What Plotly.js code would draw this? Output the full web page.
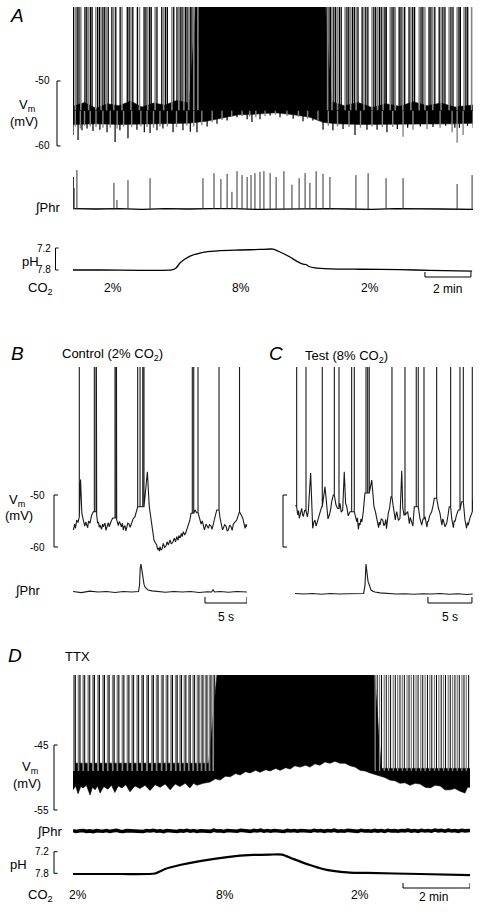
<!DOCTYPE html>
<html><head><meta charset="utf-8">
<script src="https://cdn.plot.ly/plotly-3.0.1.min.js"></script>
<style>html,body{margin:0;padding:0;background:#fff}#chart{width:485px;height:912px}</style>
</head><body><div id="chart"></div>
<script>
// ===== Panel A (time in min, Vm in mV) =====
const aBodyT = [0,1,2,3,4,5,5.8,6.5,7.2,8.0,8.8,9.6,10.3,10.9,11.5,12.5,13.5,14.5,15.5,16.5,17.39];
const aBodyLo = [-56.7,-56.6,-56.7,-56.6,-56.5,-56.5,-56.2,-55.7,-55.2,-55.1,-54.9,-55.2,-55.6,-56.4,-56.6,-56.7,-56.7,-56.6,-56.6,-56.6,-56.5];
const aBodyHiT = [0,0.5,1.0,1.5,2.0,2.5,3.0,3.5,4.0,4.5,5.05,5.35,10.95,11.25,11.8,12.4,13.0,13.6,14.2,14.8,15.4,16.0,16.6,17.39];
const aBodyHi = [-53.9,-53.3,-54.2,-53.5,-53.8,-53.1,-54.0,-53.4,-53.7,-53.0,-53.4,-38,-38,-53.2,-53.8,-53.3,-54.1,-53.5,-53.9,-53.2,-53.8,-53.4,-54.0,-53.7];
const aTipT = [0.00,0.10,0.22,0.32,0.39,0.50,0.61,0.75,0.87,1.00,1.17,1.30,1.48,1.62,1.83,1.92,2.04,2.20,2.39,2.55,2.78,2.95,3.10,3.22,3.35,3.50,3.65,3.78,3.91,4.10,4.35,4.50,4.78,4.95,5.10,5.25,5.39,5.60,5.83,6.05,6.26,6.48,6.70,6.90,7.13,7.35,7.57,7.68,7.78,7.95,8.13,8.35,8.57,8.80,9.00,9.30,9.57,9.80,10.00,10.20,10.43,10.65,10.87,11.10,11.30,11.50,11.74,12.00,12.26,12.50,12.78,13.00,13.22,13.45,13.65,13.90,14.10,14.35,14.55,14.78,15.10,15.39,15.65,15.96,16.20,16.48,16.60,16.70,16.80,16.96,17.15,17.39];
const aTipV = [-58.3,-57.0,-59.1,-57.3,-57.6,-56.9,-57.3,-57.0,-57.7,-57.1,-57.5,-57.2,-57.9,-57.2,-59.4,-57.3,-57.6,-57.0,-58.8,-57.1,-57.5,-57.0,-57.9,-57.1,-58.0,-57.2,-57.6,-57.0,-57.3,-57.0,-57.9,-57.1,-57.6,-56.9,-57.8,-57.0,-57.9,-56.8,-57.0,-56.3,-56.6,-56.0,-56.1,-55.5,-55.6,-55.4,-55.9,-55.5,-56.3,-55.6,-55.9,-55.4,-55.3,-55.2,-55.6,-55.4,-55.8,-55.5,-56.2,-55.8,-56.1,-56.0,-57.5,-56.9,-57.6,-57.0,-57.4,-57.1,-58.3,-57.2,-57.5,-57.0,-57.5,-57.1,-57.9,-57.1,-57.4,-58.6,-57.2,-57.5,-57.0,-57.4,-57.1,-57.2,-56.9,-57.9,-57.2,-59.5,-57.2,-58.3,-56.9,-57.2];
const aSpkT = [0.02,0.10,0.18,0.26,0.34,0.52,0.60,0.68,0.76,0.83,0.99,1.07,1.15,1.22,1.30,1.38,1.46,1.53,1.69,1.77,1.86,2.05,2.13,2.36,2.44,2.52,2.60,2.80,2.89,3.09,3.17,3.25,3.33,3.40,3.57,3.65,3.86,3.94,4.02,4.10,4.30,4.38,4.52,4.60,4.66,4.74,4.82,4.89,4.96,5.03,5.10,5.17,5.25,5.31,5.37,5.43,
  10.95,11.01,11.07,11.13,11.20,11.26,11.34,11.42,11.50,11.58,11.66,11.83,11.91,11.99,12.07,12.15,12.23,12.31,12.39,12.57,12.65,12.73,12.82,13.00,13.08,13.16,13.24,13.32,13.40,13.48,13.56,13.62,13.79,13.87,13.95,14.01,14.18,14.26,14.34,14.42,14.61,14.69,14.77,14.85,15.05,15.13,15.21,15.30,15.48,15.56,15.64,15.73,15.92,16.00,16.08,16.17,16.35,16.43,16.52,16.70,16.78,16.84,17.00,17.08,17.16,17.33];
const aPhrBaseT = [0,1,2,3,4,5,6,7,8,9,10,11,12,13,14,15,16,17.39];
const aPhrBaseV = [0.01,0.0,0.01,-0.01,0.01,0.0,0.01,0.01,-0.01,0.0,0.01,0.01,0.0,-0.01,0.01,0.01,0.0,-0.01];
const aPhrT = [0.02,0.05,0.17,1.78,1.91,2.39,3.35,5.65,6.13,6.43,6.70,6.91,7.13,7.35,7.57,7.74,7.91,8.13,8.30,8.57,8.83,9.17,9.52,9.83,10.09,10.30,10.57,10.87,11.17,12.30,12.83,13.61,14.35,16.70,17.35];
const aPhrH = [0.82,0.54,1.0,0.67,0.23,0.74,0.79,0.79,0.92,0.77,0.90,0.44,0.97,0.87,0.82,0.87,0.92,0.95,0.97,0.92,0.82,0.97,0.62,0.79,0.92,0.67,0.97,0.90,0.82,0.87,0.92,0.79,0.79,0.64,0.87];
const aPhT = [0,1.17,2.91,4.30,4.48,4.65,4.87,5.09,5.52,5.96,6.39,7.26,8.13,8.70,9.0,9.43,9.78,10.0,10.13,10.26,10.52,11.17,12.48,14.22,15.52,17.35];
const aPh = [7.80,7.80,7.81,7.80,7.745,7.61,7.50,7.42,7.34,7.295,7.27,7.255,7.24,7.23,7.31,7.445,7.58,7.64,7.65,7.705,7.745,7.77,7.78,7.79,7.81,7.83];

// ===== Panel B (time in s) =====
const bT = [0.04,0.20,0.30,0.44,0.60,0.75,0.90,1.05,1.23,1.40,1.52,1.63,1.75,1.85,2.02,2.12,2.23,2.42,2.82,2.93,3.04,3.12,3.21,3.40,3.52,3.61,3.81,3.92,4.01,4.20,4.30,4.40,4.55,4.73,5.20,5.40,5.50,5.60,5.77,5.88,5.99,6.10,6.19,6.30,6.39,6.52,6.67,6.80,6.99,7.15,7.38,7.50,7.65,8.57,8.85,9.08,9.37,9.50,9.64,9.80,9.96,10.08,10.18,10.28,10.36,10.48,10.60,10.75,10.90,11.07,11.20,11.35,11.55,11.70,11.90,12.05,12.20,12.35,12.50,12.60,12.74,12.90,13.00,13.13,13.30,13.45,13.60,13.73,13.90,14.05,14.52,14.70,15.12,15.25,15.38,15.51,15.65,15.83,15.97,16.11,16.25,16.43,16.55,16.70,16.90,17.11,17.50,17.65,17.80,17.89,18.05,18.21,18.35,18.49,18.65,18.81,18.95,19.08,19.25,19.49,19.65,19.80,20.20,20.35,20.48,20.60,20.68];
const bV = [-56.73,-55.6,-56.4,-54.81,-55.3,-54.17,-47.0,-53.5,-54.81,-56.0,-55.2,-55.77,-56.3,-55.0,-55.44,-54.6,-53.85,-53.21,-53.85,-55.4,-55.19,-56.2,-55.77,-56.6,-55.6,-56.10,-55.38,-56.8,-56.35,-55.3,-56.1,-55.44,-55.0,-54.42,-54.81,-55.9,-55.1,-55.38,-56.15,-55.4,-56.73,-56.0,-55.96,-56.9,-56.35,-55.4,-55.58,-56.2,-55.38,-54.6,-54.17,-53.3,-52.25,-50.33,-45.52,-52.25,-56.10,-57.8,-58.65,-59.2,-59.62,-60.5,-60.19,-60.8,-59.94,-60.6,-60.38,-59.29,-60.1,-59.81,-59.0,-59.6,-58.65,-59.4,-59.04,-58.3,-59.0,-58.02,-58.7,-57.8,-58.27,-57.4,-58.0,-57.06,-57.7,-57.12,-56.4,-55.44,-54.9,-53.52,-52.88,-53.4,-54.81,-55.6,-55.0,-56.10,-56.7,-55.58,-56.2,-56.40,-55.7,-55.96,-56.6,-55.44,-54.5,-52.88,-54.42,-55.3,-56.7,-56.40,-55.7,-55.96,-56.9,-56.73,-55.8,-56.10,-56.8,-55.58,-55.2,-54.81,-54.0,-53.21,-54.42,-55.5,-56.40,-55.6,-56.10];
const bSpkT = [0.75,2.54,2.74,5.00,5.15,7.70,7.98,8.30,8.45,14.20,14.37,14.88,17.38,19.82];
const bPhrT = [0,1,2,3,4,5,6,7,7.8,7.92,8.0,8.08,8.15,8.22,8.33,8.45,8.57,8.75,8.93,9.4,10,11,12,13,14,15,16,16.5,16.67,16.85,17.5,18.5,19.5,20.7];
const bPhrV = [0.02,-0.02,0.03,0.0,0.02,-0.02,0.02,0.0,0.02,0.25,0.85,1.0,0.88,0.7,0.43,0.28,0.18,0.12,0.07,0.04,0.02,-0.01,0.02,0.0,0.02,-0.02,0.01,0.0,0.08,0.0,0.02,-0.01,0.02,0.0];

// ===== Panel C (time in s) =====
const cT = [0.05,0.11,0.30,0.40,0.49,0.62,0.76,0.85,0.94,1.10,1.40,1.51,1.78,1.90,2.01,2.15,2.27,2.40,2.53,2.68,2.84,3.03,3.41,3.60,3.75,3.90,4.05,4.17,4.35,4.66,4.85,5.11,5.25,5.42,5.60,5.75,5.88,6.05,6.25,6.90,7.01,7.10,7.20,7.30,7.39,7.50,7.60,7.76,7.95,8.72,8.98,9.15,9.28,9.40,9.50,9.58,9.66,9.80,9.97,10.10,10.23,10.32,10.40,10.50,10.60,10.75,10.91,11.17,11.30,11.40,11.48,11.56,11.75,11.93,12.13,12.25,12.39,12.81,12.90,13.00,13.10,13.18,13.30,13.40,13.48,13.56,14.20,14.30,14.40,14.55,14.77,14.90,15.00,15.08,15.15,15.30,15.53,15.70,15.83,16.30,16.48,16.60,16.70,16.78,16.85,17.05,17.24,17.40,17.53,17.81,17.90,18.00,18.10,18.18,18.35,18.56,18.94,19.32,19.42,19.50,19.60,19.69,19.85,20.08,20.23];
const cV = [-52.0,-52.25,-53.8,-53.0,-54.48,-53.4,-52.56,-53.7,-54.17,-53.0,-54.2,-53.21,-45.77,-53.0,-56.40,-55.2,-54.81,-56.0,-55.13,-54.2,-53.52,-52.25,-48.40,-52.88,-54.6,-53.85,-52.8,-51.29,-50.0,-51.92,-52.6,-51.60,-53.3,-52.88,-45.52,-51.6,-52.25,-54.0,-53.21,-54.3,-55.13,-54.4,-56.6,-55.4,-55.77,-54.6,-55.2,-53.21,-49.62,-47.12,-52.25,-53.3,-54.17,-55.4,-56.3,-55.2,-55.77,-54.6,-54.81,-55.9,-55.44,-54.7,-56.5,-54.9,-53.52,-52.5,-50.33,-52.25,-53.6,-54.8,-53.8,-53.21,-54.9,-54.48,-45.33,-52.5,-53.85,-53.21,-54.6,-55.5,-54.3,-54.81,-55.3,-56.0,-54.0,-52.25,-54.48,-55.0,-55.8,-54.6,-54.17,-55.3,-56.2,-55.0,-55.13,-54.0,-53.21,-52.0,-50.63,-52.5,-53.52,-54.9,-55.8,-54.6,-54.81,-56.1,-55.44,-53.8,-52.25,-54.48,-55.3,-56.3,-54.9,-55.13,-53.9,-52.88,-51.29,-54.81,-55.6,-56.4,-55.3,-55.77,-54.6,-53.21,-51.0];
const cSpkT = [0.19,1.25,3.10,4.47,5.00,6.44,6.74,8.07,8.26,8.44,11.02,12.50,13.78,14.01,14.66,16.10,17.69,18.75,19.13,20.15];
const cPhrT = [0,1,2,3,4,5,6,7,7.8,7.95,8.02,8.07,8.13,8.2,8.3,8.45,8.64,8.85,9.09,9.66,10.5,11.5,12.5,13.5,14.5,15.5,16.5,17.5,18.5,19.5,20.2];
const cPhrV = [0.02,0.0,0.02,-0.01,0.02,0.0,0.01,0.02,0.02,0.3,0.8,1.07,0.9,0.68,0.45,0.32,0.14,0.1,0.07,0.04,0.02,0.0,0.01,-0.01,0.01,0.0,0.02,-0.01,0.01,-0.02,0.0];

// ===== Panel D (time in min) =====
const dBodyT = [0.00,0.08,0.15,0.23,0.30,0.40,0.51,0.58,0.66,0.73,0.81,0.92,1.04,1.15,1.25,1.35,1.46,1.58,1.70,1.85,2.00,2.15,2.30,2.45,2.60,2.75,2.90,3.05,3.19,3.35,3.49,3.60,3.70,3.88,4.09,4.25,4.39,4.55,4.69,4.85,4.99,5.15,5.28,5.45,5.58,5.75,5.88,6.05,6.18,6.35,6.48,6.62,6.78,6.95,7.07,7.22,7.37,7.52,7.67,7.82,7.97,8.12,8.27,8.42,8.57,8.72,8.87,9.01,9.16,9.31,9.46,9.61,9.76,9.91,10.06,10.21,10.36,10.51,10.66,10.81,10.96,11.10,11.25,11.40,11.55,11.70,11.78,11.85];
const dBodyLo = [-51.9,-51.3,-52.5,-51.4,-51.6,-51.2,-52.7,-51.5,-51.9,-51.3,-52.4,-51.4,-51.8,-51.2,-52.3,-51.3,-51.6,-51.1,-52.2,-51.3,-51.7,-51.2,-52.0,-51.1,-51.5,-51.0,-51.9,-51.0,-51.4,-50.9,-51.6,-50.9,-51.2,-50.9,-50.7,-50.2,-50.4,-49.8,-49.9,-49.4,-49.6,-49.1,-49.3,-48.9,-49.2,-48.8,-49.0,-48.6,-48.9,-48.5,-48.7,-48.2,-48.4,-48.1,-48.4,-47.9,-48.1,-47.6,-47.8,-47.5,-47.8,-47.8,-48.2,-48.4,-48.9,-49.0,-49.3,-49.5,-49.8,-50.0,-50.4,-50.5,-50.9,-50.8,-51.2,-50.9,-51.0,-51.5,-51.6,-51.2,-51.3,-51.9,-51.9,-51.7,-52.1,-52.4,-51.5,-51.5];
const dBodyHiT = [0, 4.05, 4.3, 9.0, 9.2, 11.85];
const dBodyHi = [-47.8, -47.8, -34, -34, -48.6, -48.6];
const dSpkL = [0.03,0.07,0.17,0.21,0.31,0.35,0.46,0.50,0.60,0.64,0.75,0.79,0.90,0.94,1.04,1.08,1.19,1.23,1.33,1.37,1.48,1.52,1.63,1.67,1.77,1.81,1.92,1.96,2.06,2.10,2.21,2.25,2.36,2.40,2.50,2.54,2.65,2.69,2.79,2.83,2.93,2.97,3.07,3.11,3.20,3.24,3.33,3.37,3.46,3.50,3.59,3.63,3.72,3.76,3.84,3.88,3.96,4.00,4.08,4.12,4.19,4.23];
const dSpkR = [9.02,9.08,9.15,9.21,9.29,9.35,9.42,9.48,9.56,9.62,9.69,9.76,9.83,9.89,9.97,10.03,10.10,10.17,10.24,10.30,10.38,10.44,10.51,10.58,10.65,10.71,10.79,10.85,10.92,10.99,11.06,11.12,11.20,11.26,11.33,11.40,11.47,11.53,11.61,11.67,11.74,11.81];
const dPhrT = [0.0,0.1,0.2,0.3,0.4,0.5,0.6,0.7,0.8,0.9,1.0,1.1,1.2,1.3,1.4,1.5,1.6,1.7,1.8,1.9,2.0,2.1,2.2,2.3,2.4,2.5,2.6,2.7,2.8,2.9,3.0,3.1,3.2,3.3,3.4,3.5,3.6,3.7,3.8,3.9,4.0,4.1,4.2,4.3,4.4,4.5,4.6,4.7,4.8,4.9,5.0,5.1,5.2,5.3,5.4,5.5,5.6,5.7,5.8,5.9,6.0,6.1,6.2,6.3,6.4,6.5,6.6,6.7,6.8,6.9,7.0,7.1,7.2,7.3,7.4,7.5,7.6,7.7,7.8,7.9,8.0,8.1,8.2,8.3,8.4,8.5,8.6,8.7,8.8,8.9,9.0,9.1,9.2,9.3,9.4,9.5,9.6,9.7,9.8,9.9,10.0,10.1,10.2,10.3,10.4,10.5,10.6,10.7,10.8,10.9,11.0,11.1,11.2,11.3,11.4,11.5,11.6,11.7,11.85];
const dPhrV = [0.03,-0.05,0.02,0.06,-0.04,0.01,-0.06,0.04,0.00,-0.03,0.05,-0.05,0.03,0.07,-0.02,-0.06,0.04,0.01,0.06,-0.04,0.02,-0.05,0.05,0.00,0.07,-0.03,0.02,-0.06,0.06,0.01,0.03,-0.05,0.04,-0.01,0.08,-0.02,0.05,-0.05,0.03,0.01,0.06,-0.04,0.09,0.00,0.02,-0.05,0.06,0.02,0.04,-0.03,0.08,0.01,0.03,-0.04,0.07,0.00,0.09,-0.02,0.05,-0.03,0.06,0.01,0.03,-0.05,0.07,0.00,0.05,-0.03,0.06,0.02,0.04,-0.03,0.08,0.00,0.05,-0.04,0.06,0.01,0.09,-0.02,0.03,-0.03,0.07,0.02,0.05,-0.04,0.08,0.00,0.03,-0.03,0.06,-0.01,0.05,-0.04,0.08,0.00,0.04,-0.03,0.06,0.02,0.09,-0.01,0.05,-0.03,0.08,0.00,0.06,-0.02,0.10,0.02,0.07,-0.02,0.09,0.00,0.06,-0.03,0.08,0.02,0.05,-0.02,0.04];
const dPhT = [0,1.40,2.45,2.75,3.19,3.79,4.60,5.37,5.88,6.24,6.57,7.07,7.46,7.76,8.27,8.78,10.36,11.85];
const dPh = [7.82,7.82,7.805,7.68,7.57,7.46,7.35,7.29,7.28,7.28,7.40,7.57,7.68,7.735,7.78,7.79,7.82,7.85];

// ===== drawing =====
const W = 485, H = 912;
const X = p => p / W, Y = p => 1 - p / H;
const SPIKE_PEAK = 10;
const FONT = '"Liberation Sans", Arial, Helvetica, sans-serif';

function spikeSet(ts, pick, from, to) {
  const x = [], y = [];
  ts.forEach((t, i) => { if (pick(i)) { x.push(t, t, null); y.push(from, to, null); } });
  return {x, y};
}
function tipSet(ts, vs, pick, from) {
  const x = [], y = [];
  ts.forEach((t, i) => { if (pick(i)) { x.push(t, t, null); y.push(from, vs[i], null); } });
  return {x, y};
}
function band(loT, lo, hiT, hi) {
  return {x: loT.concat(hiT.slice().reverse()), y: lo.concat(hi.slice().reverse())};
}
function withSpikes(bt, bv, st, peak) {
  const ev = bt.map((t, i) => ({t, v: bv[i], s: false})).concat(st.map(t => ({t, s: true})));
  ev.sort((a, b) => (a.t - b.t) || (a.s ? 1 : -1));
  const x = [], y = []; let last = bv[0];
  ev.forEach(e => {
    if (e.s) { x.push(e.t, e.t, e.t); y.push(last, peak, last); }
    else { x.push(e.t); y.push(e.v); last = e.v; }
  });
  return {x, y};
}
function phrSpikes(ts, hs) {
  const x = [], y = [];
  ts.forEach((t, i) => { x.push(t, t, null); y.push(0, hs[i], null); });
  return {x, y};
}
const base = {type: 'scatter', mode: 'lines', hoverinfo: 'skip', showlegend: false};
const tr = (o) => Object.assign({}, base, o);
const BLK = '#000', GRY = '#858585';

const traces = [];
// A
traces.push(tr(Object.assign(band(aBodyT, aBodyLo, aBodyHiT, aBodyHi), {xaxis: 'x', yaxis: 'y', fill: 'toself', fillcolor: BLK, line: {color: BLK, width: 0.5}})));
traces.push(tr(Object.assign(tipSet(aTipT, aTipV, i => i % 2 === 0, -54.6), {xaxis: 'x', yaxis: 'y', line: {color: BLK, width: 1.2}})));
traces.push(tr(Object.assign(tipSet(aTipT, aTipV, i => i % 2 === 1, -54.6), {xaxis: 'x', yaxis: 'y', line: {color: GRY, width: 1.4}})));
traces.push(tr(Object.assign(spikeSet(aSpkT, i => i % 3 !== 1, -54.5, SPIKE_PEAK), {xaxis: 'x', yaxis: 'y', line: {color: BLK, width: 1.3}})));
traces.push(tr(Object.assign(spikeSet(aSpkT, i => i % 3 === 1, -54.5, SPIKE_PEAK), {xaxis: 'x', yaxis: 'y', line: {color: GRY, width: 1.6}})));
traces.push(tr({x: aPhrBaseT, y: aPhrBaseV, xaxis: 'x', yaxis: 'y2', line: {color: BLK, width: 1.4}}));
traces.push(tr(Object.assign(phrSpikes(aPhrT, aPhrH), {xaxis: 'x', yaxis: 'y2', line: {color: '#333', width: 1}})));
traces.push(tr({x: aPhT, y: aPh, xaxis: 'x', yaxis: 'y3', line: {color: BLK, width: 1.3, shape: 'spline', smoothing: 0.6}}));
// B
traces.push(tr(Object.assign(withSpikes(bT, bV, bSpkT, SPIKE_PEAK), {xaxis: 'x2', yaxis: 'y4', line: {color: '#1a1a1a', width: 1.1}})));
traces.push(tr({x: bPhrT, y: bPhrV, xaxis: 'x2', yaxis: 'y5', line: {color: '#1a1a1a', width: 1.1}}));
// C
traces.push(tr(Object.assign(withSpikes(cT, cV, cSpkT, SPIKE_PEAK), {xaxis: 'x3', yaxis: 'y6', line: {color: '#1a1a1a', width: 1.1}})));
traces.push(tr({x: cPhrT, y: cPhrV, xaxis: 'x3', yaxis: 'y7', line: {color: '#1a1a1a', width: 1.1}}));
// D
traces.push(tr(Object.assign(band(dBodyT, dBodyLo, dBodyHiT, dBodyHi), {xaxis: 'x4', yaxis: 'y8', fill: 'toself', fillcolor: BLK, line: {color: BLK, width: 0.6}})));
traces.push(tr(Object.assign(spikeSet(dSpkL, i => i % 2 === 0, -49, SPIKE_PEAK), {xaxis: 'x4', yaxis: 'y8', line: {color: GRY, width: 2}})));
traces.push(tr(Object.assign(spikeSet(dSpkL, i => i % 2 === 1, -49, SPIKE_PEAK), {xaxis: 'x4', yaxis: 'y8', line: {color: BLK, width: 1}})));
traces.push(tr(Object.assign(spikeSet(dSpkR, i => i % 2 === 0, -49, SPIKE_PEAK), {xaxis: 'x4', yaxis: 'y8', line: {color: GRY, width: 1.3}})));
traces.push(tr(Object.assign(spikeSet(dSpkR, i => i % 2 === 1, -49, SPIKE_PEAK), {xaxis: 'x4', yaxis: 'y8', line: {color: BLK, width: 1}})));
traces.push(tr({x: dPhrT, y: dPhrV, xaxis: 'x4', yaxis: 'y9', line: {color: BLK, width: 3.6}}));
traces.push(tr({x: dPhT, y: dPh, xaxis: 'x4', yaxis: 'y10', line: {color: BLK, width: 2.2, shape: 'spline', smoothing: 0.6}}));

// axes
const hid = {visible: false, fixedrange: true};
const xa = (p0, p1, r, anchor) => Object.assign({domain: [X(p0), X(p1)], range: r, anchor}, hid);
const ya = (top, bot, r, anchor) => Object.assign({domain: [Y(bot), Y(top)], range: r, anchor}, hid);

// scale bars
const LS = {color: '#000', width: 1};
function bracket(xPx, tickPx, yref, v0, v1) {
  return [
    {type: 'line', xref: 'paper', yref, x0: X(xPx), x1: X(xPx), y0: v0, y1: v1, line: LS},
    {type: 'line', xref: 'paper', yref, x0: X(xPx), x1: X(tickPx), y0: v0, y1: v0, line: LS},
    {type: 'line', xref: 'paper', yref, x0: X(xPx), x1: X(tickPx), y0: v1, y1: v1, line: LS}
  ];
}
function tbar(xref, t0, t1, yPx, upPx) {
  return [
    {type: 'line', xref, yref: 'paper', x0: t0, x1: t1, y0: Y(yPx), y1: Y(yPx), line: LS},
    {type: 'line', xref, yref: 'paper', x0: t0, x1: t0, y0: Y(yPx), y1: Y(upPx), line: LS},
    {type: 'line', xref, yref: 'paper', x0: t1, x1: t1, y0: Y(yPx), y1: Y(upPx), line: LS}
  ];
}
const shapes = [].concat(
  bracket(57, 60.5, 'y', -50, -60),
  bracket(55.5, 58.5, 'y3', 7.2, 7.8),
  tbar('x', 15.30, 17.30, 277, 272),
  bracket(54, 58, 'y4', -50, -60),
  tbar('x2', 15.71, 20.71, 603, 597),
  bracket(283, 287, 'y6', -50, -60),
  tbar('x3', 15.11, 20.11, 603, 597),
  bracket(54, 57.5, 'y8', -45, -55),
  bracket(54, 57.5, 'y10', 7.2, 7.8),
  tbar('x4', 9.85, 11.85, 888, 883)
);

const f = (s, it) => it ? {family: FONT, size: s, color: '#000', style: 'italic'} : {family: FONT, size: s, color: '#000'};
function ann(text, x, y, size, o, it) {
  return Object.assign({text, x, y, xref: 'paper', yref: 'paper', showarrow: false, xanchor: 'center', yanchor: 'middle',
    font: f(size, it)}, o || {});
}
const annotations = [
  // A
  ann('A', X(17), Y(15), 19, null, true),
  ann('-50', X(52), -50, 10, {yref: 'y', xanchor: 'right'}),
  ann('-60', X(52), -60, 10, {yref: 'y', xanchor: 'right'}),
  ann('V<sub>m</sub>', X(27), Y(106), 13),
  ann('(mV)', X(24), Y(121), 13),
  ann('∫Phr', X(47), Y(207), 13),
  ann('pH', X(31), Y(262), 13),
  ann('7.2', X(53), 7.2, 10, {yref: 'y3', xanchor: 'right'}),
  ann('7.8', X(53), 7.8, 10, {yref: 'y3', xanchor: 'right'}),
  ann('CO<sub>2</sub>', X(40), Y(288), 13),
  ann('2%', 1.74, Y(288), 12, {xref: 'x'}),
  ann('8%', 7.30, Y(288), 12, {xref: 'x'}),
  ann('2%', 12.91, Y(288), 12, {xref: 'x'}),
  ann('2 min', 16.30, Y(289), 12, {xref: 'x'}),
  // B, C
  ann('B', X(17), Y(354), 19, null, true),
  ann('Control (2% CO<sub>2</sub>)', X(60), Y(355), 13, {xanchor: 'left'}),
  ann('C', X(276), Y(353), 19, null, true),
  ann('Test (8% CO<sub>2</sub>)', X(303), Y(356), 13, {xanchor: 'left'}),
  ann('-50', X(47), -50, 10, {yref: 'y4', xanchor: 'right'}),
  ann('-60', X(47), -60, 10, {yref: 'y4', xanchor: 'right'}),
  ann('V<sub>m</sub>', X(17), Y(500), 13),
  ann('(mV)', X(19), Y(515), 13),
  ann('∫Phr', X(27), Y(590), 13),
  ann('5 s', 18.21, Y(617), 12, {xref: 'x2'}),
  ann('5 s', 17.61, Y(617), 12, {xref: 'x3'}),
  // D
  ann('D', X(15), Y(655), 19, null, true),
  ann('TTX', X(63), Y(656), 13, {xanchor: 'left'}),
  ann('-45', X(51), -45, 10, {yref: 'y8', xanchor: 'right'}),
  ann('-55', X(51), -55, 10, {yref: 'y8', xanchor: 'right'}),
  ann('V<sub>m</sub>', X(30), Y(767), 13),
  ann('(mV)', X(27), Y(783), 13),
  ann('∫Phr', X(49), Y(831), 13),
  ann('pH', X(18), Y(864), 13),
  ann('7.2', X(51), 7.2, 10, {yref: 'y10', xanchor: 'right'}),
  ann('7.8', X(51), 7.8, 10, {yref: 'y10', xanchor: 'right'}),
  ann('CO<sub>2</sub>', X(40), Y(895), 13),
  ann('2%', 0.15, Y(895), 12, {xref: 'x4'}),
  ann('8%', 4.54, Y(895), 12, {xref: 'x4'}),
  ann('2%', 8.57, Y(895), 12, {xref: 'x4'}),
  ann('2 min', 10.75, Y(897), 12, {xref: 'x4'})
];

const layout = {
  width: W, height: H, margin: {l: 0, r: 0, t: 0, b: 0},
  paper_bgcolor: '#fff', plot_bgcolor: 'rgba(0,0,0,0)', showlegend: false,
  xaxis: xa(73, 473, [0, 17.39], 'y'),
  yaxis: ya(7, 150, [-60.62, -38.62], 'x'),
  yaxis2: ya(165, 212, [-0.077, 1.128], 'x'),
  yaxis3: ya(244, 276, [7.964, 7.091], 'x'),
  xaxis2: xa(73, 247, [0, 20.71], 'y4'),
  yaxis4: ya(367, 552, [-60.96, -25.38], 'x2'),
  yaxis5: ya(558, 598, [-0.214, 1.214], 'x2'),
  xaxis3: xa(295, 473, [0, 20.23], 'y6'),
  yaxis6: ya(367, 552, [-60.96, -25.38], 'x3'),
  yaxis7: ya(560, 600, [-0.214, 1.214], 'x3'),
  xaxis4: xa(73, 470, [0, 11.85], 'y8'),
  yaxis8: ya(675, 815, [-55.77, -34.23], 'x4'),
  yaxis9: ya(822, 840, [-1, 1], 'x4'),
  yaxis10: ya(847, 878, [7.931, 7.069], 'x4'),
  shapes, annotations
};
Plotly.newPlot('chart', traces, layout, {displayModeBar: false, staticPlot: true});
</script></body></html>
